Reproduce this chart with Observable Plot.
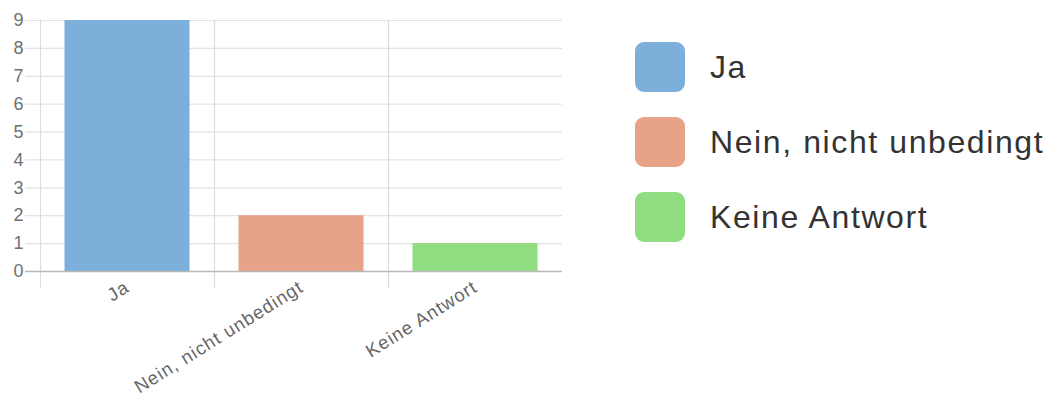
<!DOCTYPE html>
<html>
<head>
<meta charset="utf-8">
<script src="https://cdn.jsdelivr.net/npm/d3@7"></script>
<script src="https://cdn.jsdelivr.net/npm/@observablehq/plot@0.6"></script>
<style>
  html, body { margin: 0; padding: 0; background: #fff; }
  body { width: 1055px; height: 401px; position: relative; overflow: hidden; font-family: "Liberation Sans", Arial, sans-serif; }
  #chart { position: absolute; left: 0; top: 0; }
  #chart g[aria-label="y-axis tick label"] { font-size: 18px !important; }
  #chart g[aria-label="x-axis tick label"] { font-size: 18.5px !important; letter-spacing: 1px; }
  #legend { position: absolute; left: 635px; top: 42px; }
  .item { display: flex; align-items: center; height: 50px; margin-bottom: 25px; }
  .sw { width: 50px; height: 50px; border-radius: 9px; margin-right: 25px; }
  .lab { font-size: 32px; letter-spacing: 1.6px; color: #333; }
</style>
</head>
<body>
<div id="chart"></div>
<div id="legend"></div>
<script>
const categories = ["Ja", "Nein, nicht unbedingt", "Keine Antwort"];
const counts = [9, 2, 1];
const colors = ["#7cafd9", "#e7a287", "#90dc80"];
const yTicks = [0, 1, 2, 3, 4, 5, 6, 7, 8, 9];

const data = categories.map((c, i) => ({category: c, count: counts[i], color: colors[i]}));

const chart = Plot.plot({
  width: 575,
  height: 401,
  marginLeft: 40,
  marginRight: 13,
  marginTop: 20,
  marginBottom: 130,
  style: {fontFamily: "'Liberation Sans', Arial, sans-serif", background: "transparent"},
  x: {domain: categories, padding: 0},
  y: {domain: [0, 9]},
  marks: [
    Plot.ruleY(yTicks, {stroke: "#e3e3e3", strokeWidth: 1.2, insetLeft: -15}),
    Plot.ruleX(categories, {x: d => d, dx: -87, y1: 9, y2: 0, stroke: "#dcdcdc", strokeWidth: 1.2, insetBottom: -17}),
    Plot.barY(data, {x: "category", y: "count", fill: "color", insetLeft: 24.5, insetRight: 24.5}),
    Plot.ruleY([0], {stroke: "#b8b8b8", strokeWidth: 1.3, insetLeft: -15}),
    Plot.axisY({ticks: yTicks, tickSize: 0, tickPadding: 17, fill: "#707070", label: null}),
    Plot.axisX({tickSize: 0, tickPadding: 14, tickRotate: -32, fill: "#666", label: null})
  ]
});
document.getElementById("chart").appendChild(chart);

const legend = document.getElementById("legend");
categories.forEach((c, i) => {
  const item = document.createElement("div");
  item.className = "item";
  const sw = document.createElement("div");
  sw.className = "sw";
  sw.style.background = colors[i];
  const lab = document.createElement("span");
  lab.className = "lab";
  lab.textContent = c;
  item.appendChild(sw);
  item.appendChild(lab);
  legend.appendChild(item);
});
</script>
</body>
</html>
